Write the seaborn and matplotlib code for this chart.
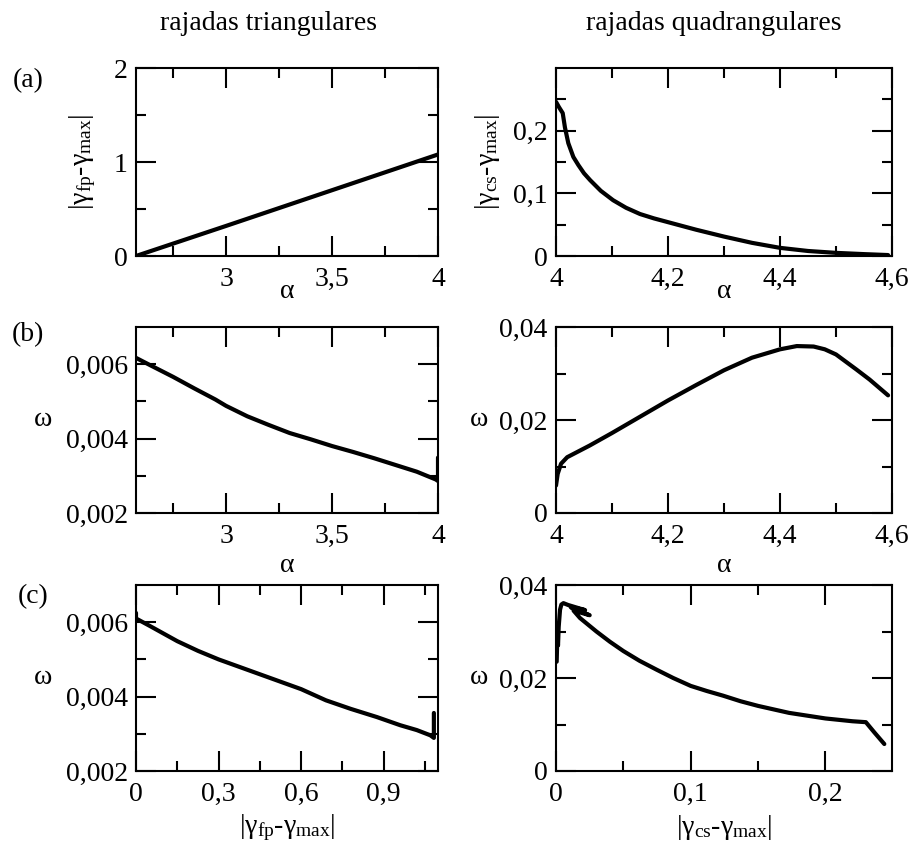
import matplotlib
matplotlib.use("Agg")
import matplotlib.pyplot as plt
import seaborn as sns
import numpy as np
import pandas as pd

# ---------------- data ----------------
# (a) triangular gusts: |gamma_fp - gamma_max| vs alpha
alpha_tri_a = [2.575, 3.0, 3.5, 4.0]
gamma_fp_a = [0.0, 0.32, 0.70, 1.08]

# (a) quadrangular gusts: |gamma_cs - gamma_max| vs alpha
alpha_quad_a = [4.0, 4.005, 4.012, 4.016, 4.022, 4.031, 4.04, 4.05, 4.061, 4.08,
                4.102, 4.125, 4.15, 4.175, 4.2, 4.25, 4.3, 4.35, 4.4, 4.45,
                4.5, 4.55, 4.593]
gamma_cs_a = [0.246, 0.238, 0.228, 0.205, 0.18, 0.158, 0.145, 0.132, 0.121, 0.104,
              0.089, 0.077, 0.067, 0.06, 0.054, 0.042, 0.031, 0.021, 0.013, 0.008,
              0.005, 0.003, 0.0015]

# (b) triangular: omega vs alpha
alpha_tri_b = [2.575, 2.65, 2.75, 2.85, 2.95, 3.0, 3.1, 3.2, 3.3, 3.4, 3.5,
               3.6, 3.7, 3.8, 3.9, 3.99, 4.0, 4.0]
omega_tri_b = [0.00617, 0.00595, 0.00566, 0.00535, 0.00505, 0.00488, 0.0046,
               0.00437, 0.00415, 0.00398, 0.0038, 0.00364, 0.00347, 0.00329,
               0.00311, 0.0029, 0.00286, 0.00349]

# (b) quadrangular: omega vs alpha
alpha_quad_b = [4.0, 4.003, 4.009, 4.02, 4.06, 4.1, 4.15, 4.2, 4.25, 4.3,
                4.35, 4.4, 4.43, 4.46, 4.48, 4.5, 4.536, 4.56, 4.593]
omega_quad_b = [0.0059, 0.0084, 0.0106, 0.012, 0.0145, 0.0172, 0.0207, 0.0242,
                0.0275, 0.0307, 0.0334, 0.0352, 0.0359, 0.0358, 0.0352, 0.0341,
                0.0309, 0.0287, 0.0253]

# (c) triangular: omega vs |gamma_fp - gamma_max|
gamma_fp_c = [0.0, 0.0, 0.05, 0.15, 0.225, 0.3, 0.375, 0.45, 0.525, 0.6,
              0.69, 0.78, 0.875, 0.96, 1.02, 1.069, 1.082, 1.082]
omega_tri_c = [0.00625, 0.0061, 0.0059, 0.00549, 0.00523, 0.005, 0.0048,
               0.0046, 0.0044, 0.0042, 0.0039, 0.00367, 0.00345, 0.00323,
               0.0031, 0.00296, 0.00289, 0.00356]

# (c) quadrangular: omega vs |gamma_cs - gamma_max|
gamma_cs_c = [0.0005, 0.001, 0.0015, 0.002, 0.003, 0.004, 0.0055, 0.009,
              0.0216, 0.011, 0.025, 0.013, 0.0178, 0.03, 0.04, 0.05, 0.062,
              0.0746, 0.087, 0.1, 0.112, 0.124, 0.137, 0.15, 0.173, 0.2, 0.22,
              0.23, 0.2363, 0.2437]
omega_quad_c = [0.0235, 0.029, 0.027, 0.031, 0.0347, 0.0358, 0.0361, 0.0357,
                0.0346, 0.0352, 0.0335, 0.0345, 0.0329, 0.030, 0.0278, 0.0258,
                0.0237, 0.0218, 0.02, 0.0183, 0.0172, 0.0162, 0.015, 0.014,
                0.0125, 0.0113, 0.0107, 0.0105, 0.0083, 0.0058]

col_titles = ["rajadas triangulares", "rajadas quadrangulares"]
row_tags = ["(a)", "(b)", "(c)"]

xt_tri_alpha = [3, 3.5, 4]
xt_tri_alpha_lab = ["3", "3,5", "4"]
xt_quad_alpha = [4, 4.2, 4.4, 4.6]
xt_quad_alpha_lab = ["4", "4,2", "4,4", "4,6"]
xt_gfp = [0, 0.3, 0.6, 0.9]
xt_gfp_lab = ["0", "0,3", "0,6", "0,9"]
xt_gcs = [0, 0.1, 0.2]
xt_gcs_lab = ["0", "0,1", "0,2"]
yt_gfp = [0, 1, 2]
yt_gfp_lab = ["0", "1", "2"]
yt_gcs = [0, 0.1, 0.2]
yt_gcs_lab = ["0", "0,1", "0,2"]
yt_om_tri = [0.002, 0.004, 0.006]
yt_om_tri_lab = ["0,002", "0,004", "0,006"]
yt_om_quad = [0, 0.02, 0.04]
yt_om_quad_lab = ["0", "0,02", "0,04"]

# ---------------- style ----------------
sns.set_theme(style="ticks")
plt.rcParams["font.family"] = ["Liberation Serif", "DejaVu Serif"]
plt.rcParams["mathtext.fontset"] = "custom"
plt.rcParams["mathtext.rm"] = "Liberation Serif"
plt.rcParams["mathtext.it"] = "Liberation Serif:italic"
plt.rcParams["axes.linewidth"] = 1.5
for k in ["text.color", "axes.labelcolor", "xtick.color", "ytick.color",
          "axes.edgecolor"]:
    plt.rcParams[k] = "black"

FS = 20
W, H = 914, 852
fig = plt.figure(figsize=(W / 100, H / 100), dpi=100)
fig.patch.set_facecolor("white")


def add_ax(x0, y0, x1, y1):
    return fig.add_axes([x0 / W, 1 - y1 / H, (x1 - x0) / W, (y1 - y0) / H])


cols = [(136, 438), (556, 892)]
rows = [(68, 256), (327, 513), (585, 771)]

lab_gfp = "|γ$_{\\mathrm{fp}}$-γ$_{\\mathrm{max}}$|"
lab_gcs = "|γ$_{\\mathrm{cs}}$-γ$_{\\mathrm{max}}$|"

panels = [
    (0, 0, alpha_tri_a, gamma_fp_a, (2.575, 4), (0, 2), xt_tri_alpha, xt_tri_alpha_lab,
     [2.75, 3.25, 3.75], yt_gfp, yt_gfp_lab, [0.5, 1.5]),
    (0, 1, alpha_quad_a, gamma_cs_a, (4, 4.6), (0, 0.3), xt_quad_alpha, xt_quad_alpha_lab,
     [4.1, 4.3, 4.5], yt_gcs, yt_gcs_lab, [0.05, 0.15, 0.25]),
    (1, 0, alpha_tri_b, omega_tri_b, (2.575, 4), (0.002, 0.007), xt_tri_alpha, xt_tri_alpha_lab,
     [2.75, 3.25, 3.75], yt_om_tri, yt_om_tri_lab, [0.003, 0.005]),
    (1, 1, alpha_quad_b, omega_quad_b, (4, 4.6), (0, 0.04), xt_quad_alpha, xt_quad_alpha_lab,
     [4.1, 4.3, 4.5], yt_om_quad, yt_om_quad_lab, [0.01, 0.03]),
    (2, 0, gamma_fp_c, omega_tri_c, (0, 1.097), (0.002, 0.007), xt_gfp, xt_gfp_lab,
     [0.15, 0.45, 0.75, 1.05], yt_om_tri, yt_om_tri_lab, [0.003, 0.005]),
    (2, 1, gamma_cs_c, omega_quad_c, (0, 0.2494), (0, 0.04), xt_gcs, xt_gcs_lab,
     [0.05, 0.15], yt_om_quad, yt_om_quad_lab, [0.01, 0.03]),
]

axes = {}
for (r, c, xs, ys, xl, yl, xt, xtl, xmin_, yt, ytl, ymin_) in panels:
    x0, x1 = cols[c]
    y0, y1 = rows[r]
    ax = add_ax(x0, y0, x1, y1)
    axes[(r, c)] = ax
    df = pd.DataFrame({"x": xs, "y": ys})
    sns.lineplot(data=df, x="x", y="y", sort=False, estimator=None, ax=ax,
                 color="black", linewidth=3.0, solid_capstyle="round",
                 solid_joinstyle="round")
    ax.set_xlim(*xl)
    ax.set_ylim(*yl)
    ax.set_xticks(xt)
    ax.set_xticklabels(xtl)
    ax.set_xticks(xmin_, minor=True)
    ax.set_yticks(yt)
    ax.set_yticklabels(ytl)
    ax.set_yticks(ymin_, minor=True)
    ax.tick_params(which="both", direction="in", top=True, right=True,
                   width=1.5, colors="black", labelsize=FS)
    ax.tick_params(which="major", length=14.4)
    ax.tick_params(which="minor", length=7.2)
    ax.tick_params(axis="x", which="major", pad=8)
    ax.tick_params(axis="y", which="major", pad=6)
    for s in ax.spines.values():
        s.set_linewidth(1.5)
        s.set_color("black")
    ax.set_xlabel("")
    ax.set_ylabel("")
    ax.set_facecolor("white")


def ylab(ax, txt, xpx, col, rot):
    x0, x1 = cols[col]
    ax.set_ylabel(txt, fontsize=FS, rotation=rot, va="center", ha="center")
    ax.yaxis.set_label_coords((xpx - x0) / (x1 - x0), 0.5)


def xlab(ax, txt, ypx, row):
    y0, y1 = rows[row]
    ax.set_xlabel(txt, fontsize=FS, va="center", ha="center")
    ax.xaxis.set_label_coords(0.5, (y1 - ypx) / (y1 - y0))


ylab(axes[(0, 0)], lab_gfp, 83, 0, 90)
ylab(axes[(0, 1)], lab_gcs, 487, 1, 90)
ylab(axes[(1, 0)], "ω", 43, 0, 0)
ylab(axes[(1, 1)], "ω", 479, 1, 0)
ylab(axes[(2, 0)], "ω", 43, 0, 0)
ylab(axes[(2, 1)], "ω", 479, 1, 0)

xlab(axes[(0, 0)], "α", 292, 0)
xlab(axes[(0, 1)], "α", 292, 0)
xlab(axes[(1, 0)], "α", 565, 1)
xlab(axes[(1, 1)], "α", 565, 1)
xlab(axes[(2, 0)], lab_gfp, 828, 2)
xlab(axes[(2, 1)], lab_gcs, 828, 2)

fig.text(268 / W, 1 - 23 / H, col_titles[0], fontsize=FS, ha="center", va="center")
fig.text(714 / W, 1 - 23 / H, col_titles[1], fontsize=FS, ha="center", va="center")

for tag, (px, py) in zip(row_tags, [(28, 81), (28, 335), (33, 597)]):
    fig.text(px / W, 1 - py / H, tag, fontsize=FS, ha="center", va="center")

fig.savefig("out.png", dpi=100, facecolor="white")
